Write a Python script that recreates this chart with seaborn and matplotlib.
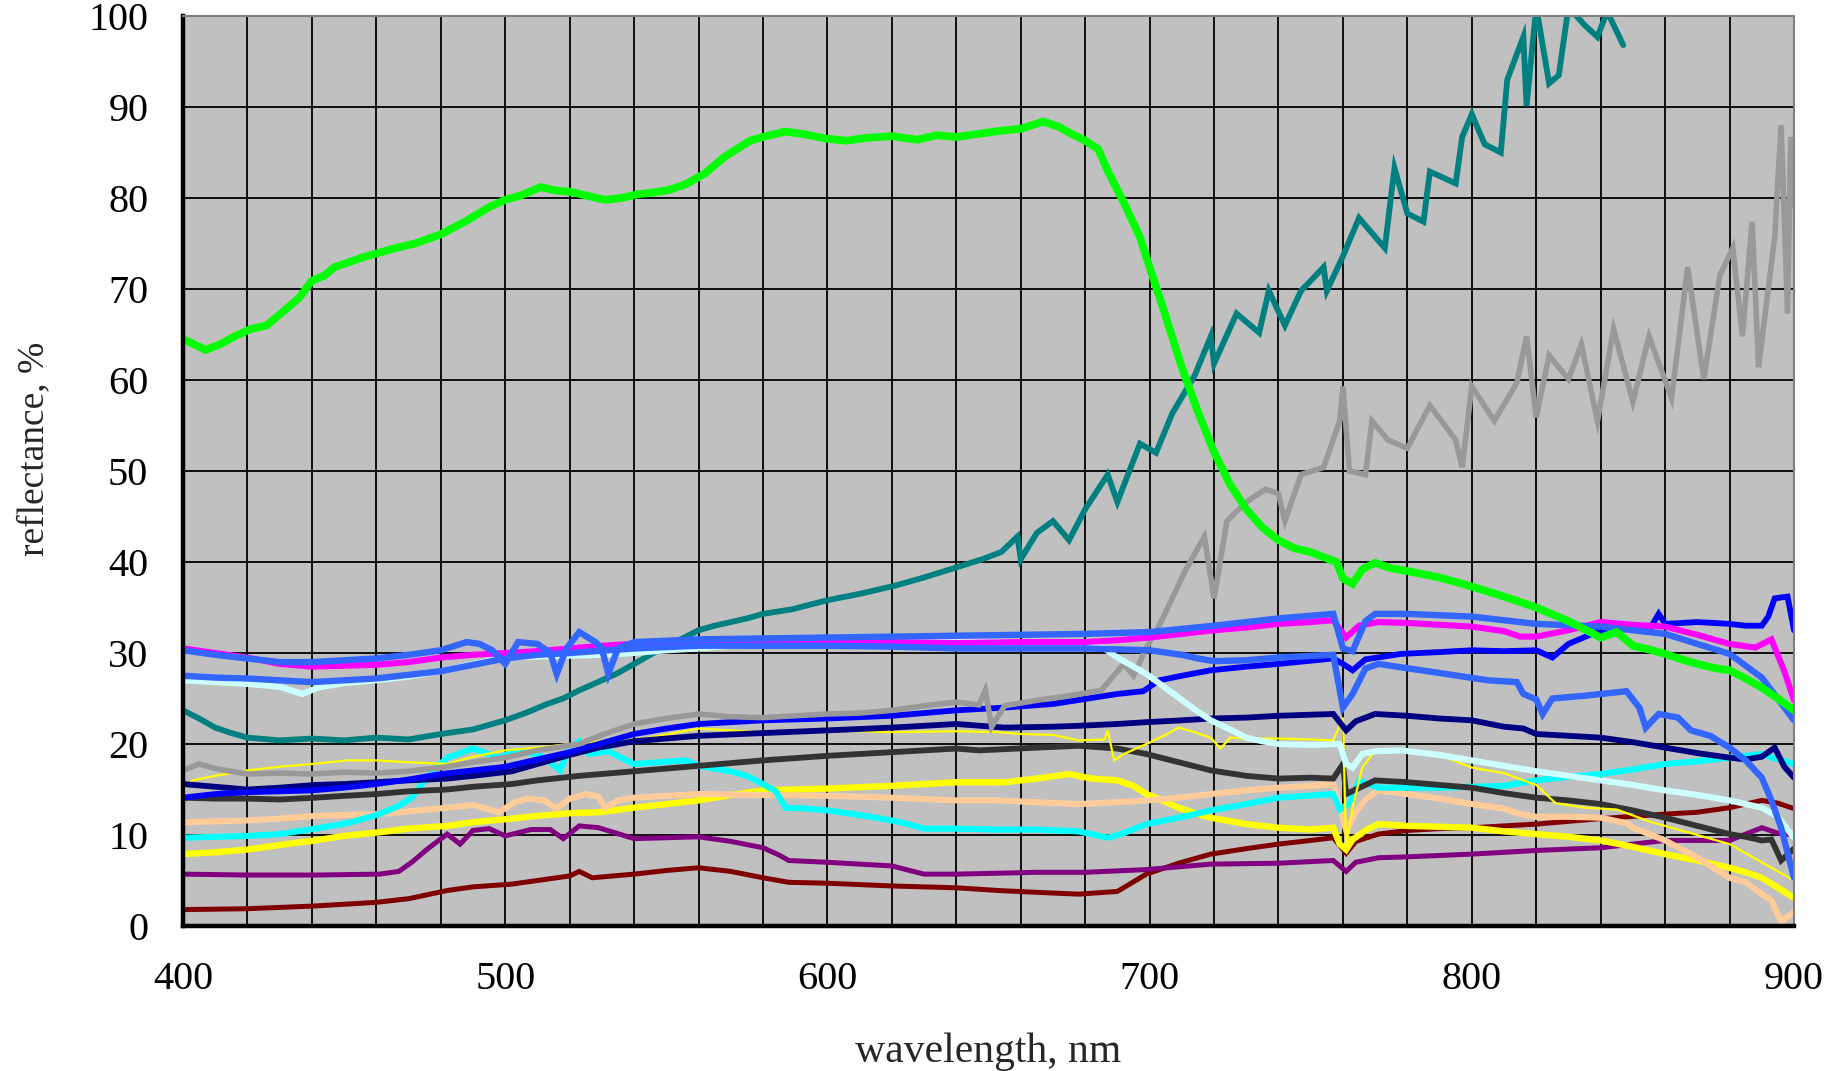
import matplotlib
matplotlib.use("Agg")
import matplotlib.pyplot as plt
import seaborn as sns
import pandas as pd

# ---------------- data (wavelength nm, reflectance %) ----------------
maroon = [(400,1.8),(420,1.9),(441,2.2),(460,2.6),(470,3),(482,3.9),(490,4.3),(502,4.6),(510,5),(520,5.5),(523,6),(527,5.3),
          (540,5.7),(550,6.1),(560,6.4),(570,6),(580,5.3),(588,4.8),(600,4.7),(620,4.4),(640,4.2),(653,3.9),(665,3.7),(678,3.5),
          (690,3.8),(699,5.7),(709,6.9),(719,7.9),(730,8.5),(740,9),(750,9.4),(757,9.7),(761,8),(764,9.3),(771,10.1),(780,10.5),
          (790,10.7),(800,10.8),(820,11.2),(840,11.8),(860,12.3),(870,12.5),(880,13),(890,13.8),(895,13.5),(900,12.9)]
purple = [(400,5.7),(420,5.6),(441,5.6),(461,5.7),(467,6),(471,7),(476,8.5),(482,10.1),(486,9),(490,10.5),(495,10.7),(500,9.9),
          (508,10.6),(514,10.6),(518,9.6),(523,11),(529,10.8),(540,9.6),(550,9.7),(560,9.8),(570,9.3),(580,8.6),(585,7.8),(588,7.2),
          (600,7),(620,6.6),(630,5.7),(640,5.7),(653,5.8),(665,5.9),(680,5.9),(699,6.2),(719,6.8),(740,6.9),(757,7.2),(761,6),
          (764,7),(771,7.5),(780,7.6),(800,7.9),(820,8.3),(840,8.6),(860,9.4),(880,9.4),(890,10.8),(895,10.2),(900,10)]
yellow_thick = [(400,7.9),(410,8.1),(420,8.4),(430,8.9),(441,9.4),(450,9.9),(461,10.3),(470,10.7),(482,11),(490,11.4),(502,11.8),
          (510,12.1),(520,12.4),(529,12.5),(540,13),(550,13.4),(560,13.8),(570,14.4),(580,14.9),(600,15.1),(620,15.4),(640,15.8),
          (655,15.8),(665,16.2),(675,16.7),(682,16.2),(690,16),(695,15.4),(699,14.5),(704,13.8),(709,13),(714,12.4),(719,11.9),
          (730,11.2),(740,10.8),(750,10.6),(757,10.8),(759,9),(761,8.4),(763,9.5),(767,10.5),(771,11.2),(780,11),(790,10.9),
          (800,10.8),(810,10.4),(820,10.1),(830,9.8),(840,9.4),(850,8.7),(860,7.9),(870,7.2),(880,6.4),(885,5.9),(890,5.3),
          (895,4.2),(900,3.1)]
peach = [(400,11.4),(410,11.5),(420,11.6),(430,11.8),(441,12.1),(450,12.2),(461,12.3),(470,12.6),(482,13),(490,13.3),(498,12.5),
         (503,13.6),(507,14),(512,13.8),(516,12.9),(520,14),(525,14.5),(529,14.2),(531,13),(535,13.8),(540,14.1),(560,14.5),
         (580,14.4),(600,14.3),(620,14.1),(640,13.8),(653,13.8),(665,13.6),(678,13.4),(690,13.6),(699,13.8),(709,14.1),(719,14.5),
         (730,14.9),(740,15.2),(750,15.4),(757,15.6),(759,13),(761,10.5),(764,12.5),(767,13.9),(771,14.9),(780,14.5),(790,14),
         (800,13.4),(810,12.9),(815,12.3),(820,12),(830,12),(840,11.9),(848,11.3),(850,10.8),(855,10.1),(860,9.4),(870,7.5),
         (880,5.3),(885,4.8),(890,3.5),(893,2.8),(896,0.5),(900,1.5)]
cyan = [(400,9.7),(410,9.8),(420,9.9),(430,10.1),(441,10.7),(451,11.3),(461,12.3),(467,13.2),(471,14.1),(475,16),(479,17.5),
        (482,18.5),(486,19),(490,19.5),(494,19),(498,18.5),(503,19.2),(510,18.9),(514,18),(517,17.1),(520,19.5),(523,20.3),
        (526,18.9),(532,19.2),(540,17.8),(548,18),(556,18.2),(560,17.6),(570,17),(575,16.5),(580,15.6),(584,14.8),(587,13),
        (594,12.9),(600,12.7),(610,12.2),(620,11.6),(625,11.2),(630,10.7),(640,10.7),(653,10.6),(665,10.6),(678,10.4),(687,9.7),
        (692,10.2),(699,11.2),(709,11.9),(719,12.7),(730,13.4),(740,14.1),(757,14.5),(759,12.8),(762,13.5),(765,16),(771,15.2),
        (780,15.2),(790,15.2),(800,15.3),(810,15.4),(820,16),(830,16.4),(840,16.7),(850,17.2),(860,17.8),(870,18.1),(880,18.5),
        (890,18.9),(895,18.3),(900,17.8)]
dark_gray = [(400,14.1),(410,14),(420,14),(430,13.9),(441,14.1),(450,14.3),(460,14.5),(470,14.8),(482,15),(490,15.3),(502,15.6),
             (510,16),(523,16.5),(540,17),(560,17.6),(580,18.2),(600,18.7),(620,19.1),(640,19.5),(647,19.3),(665,19.6),(678,19.8),
             (690,19.5),(699,18.9),(709,18),(719,17.1),(730,16.5),(740,16.2),(750,16.3),(757,16.2),(760,17.8),(761,14.5),(764,15),
             (770,16),(780,15.8),(790,15.5),(800,15.2),(810,14.6),(820,14.1),(830,13.8),(840,13.4),(850,12.7),(860,11.9),(870,11),
             (880,10.1),(885,9.8),(890,9.4),(893,9.5),(896,7.2),(900,8.5)]
yellow_thin = [(400,14.2),(401,15.5),(403,16),(410,16.5),(420,17.1),(430,17.5),(440,17.8),(451,18.2),(460,18.2),(470,18),
               (482,17.8),(490,18.6),(500,19.3),(510,19.6),(520,20),(530,20.3),(540,20.4),(560,21.7),(580,21.3),(600,21.5),
               (620,21.3),(640,21.4),(653,21.3),(660,21.1),(670,21),(678,20.4),(686,20.5),(687,21.5),(689,18.2),(692,18.9),
               (699,20),(705,21),(709,21.8),(714,21.3),(719,20.7),(722,19.5),(725,20.7),(730,20.6),(740,20.6),(750,20.5),
               (757,20.4),(760,22.9),(761,8.6),(763,13),(766,17.4),(770,19.3),(780,19.2),(790,18.8),(800,17.4),(810,16.8),
               (816,16),(820,15.5),(826,13.5),(835,13),(845,12.8),(855,11.5),(870,10),(880,9),(890,7),(900,5)]
navy = [(400,15.6),(410,15.3),(420,15),(430,15.2),(441,15.5),(450,15.6),(460,15.8),(470,16),(482,16.2),(490,16.5),(502,17),
        (510,17.8),(520,18.8),(529,19.6),(540,20.3),(560,20.9),(580,21.2),(600,21.5),(620,21.8),(640,22.2),(655,21.8),(670,21.9),
        (678,22),(690,22.2),(699,22.4),(710,22.6),(719,22.8),(730,22.9),(740,23.1),(757,23.3),(761,21.5),(764,22.5),(770,23.3),
        (780,23.1),(790,22.8),(800,22.6),(810,21.9),(816,21.7),(820,21.1),(830,20.9),(840,20.7),(850,20.2),(860,19.6),(870,19),
        (880,18.5),(885,18.3),(890,18.6),(894,19.6),(897,17.5),(900,16.3)]
blue = [(400,14.1),(410,14.5),(420,14.7),(430,14.8),(440,14.9),(450,15.2),(460,15.6),(470,16.1),(480,16.7),(490,17.1),(500,17.5),
        (510,18.3),(520,19.1),(530,20.1),(540,21.1),(550,21.7),(560,22.2),(580,22.6),(600,22.8),(620,23.1),(640,23.7),(655,24),
        (670,24.4),(690,25.5),(698,25.8),(703,27),(710,27.5),(719,28.1),(730,28.5),(740,28.8),(757,29.4),(760,28.8),(763,28.1),
        (767,29.3),(778,29.9),(790,30.1),(800,30.3),(810,30.2),(820,30.3),(825,29.5),(830,31),(840,32.5),(850,32.8),(855,32.5),
        (858,34.3),(860,33.2),(870,33.4),(880,33.2),(885,33),(890,33),(892,34),(894,36),(898,36.2),(900,32.5)]
gray = [(400,17.1),(405,17.8),(410,17.3),(420,16.7),(430,16.8),(440,16.7),(450,16.9),(460,16.8),(470,17),(480,17.4),(490,18),
        (500,18.5),(510,19.3),(523,20),(530,21),(540,22.2),(550,22.8),(560,23.3),(570,23),(580,22.9),(590,23.1),(600,23.3),
        (610,23.4),(620,23.7),(630,24.2),(640,24.6),(647,24.3),(649,25.9),(651,21.9),(655,24.2),(665,24.8),(675,25.3),(685,25.9),
        (692,28.8),(695,27.5),(699,30.6),(703,33),(707,36),(711,39),(717,42.8),(720,36),(724,44.5),(730,46.6),(736,48),
        (740,47.5),(742,44.5),(747,49.6),(754,50.4),(759,55.5),(760,59.3),(762,50),(767,49.6),(769,55.5),(774,53.4),(780,52.5),
        (787,57.2),(795,53.4),(797,50.4),(800,59.3),(807,55.5),(814,59.7),(817,64.8),(820,55.9),(824,62.7),(830,60.1),
        (834,63.9),(839,55.5),(844,65.6),(850,57.6),(855,64.8),(862,58),(867,72.4),(872,60.1),(877,71.5),(881,74.5),
        (884,64.8),(887,77.4),(889,61.4),(894,75.7),(896,88),(898,67.3),(899,86.7),(900,79.1)]
teal = [(400,23.7),(405,22.8),(410,21.8),(415,21.2),(420,20.7),(430,20.4),(440,20.6),(450,20.4),(460,20.7),(470,20.5),(480,21.1),
        (490,21.6),(500,22.6),(507,23.5),(513,24.4),(518,25),(523,25.9),(530,27),(535,27.8),(540,28.8),(545,29.8),(549,30.6),
        (555,31.6),(560,32.5),(565,33),(570,33.4),(575,33.8),(580,34.3),(589,34.8),(600,35.8),(610,36.5),(621,37.4),(630,38.3),
        (640,39.4),(648,40.3),(654,41.1),(659,42.8),(660,40.3),(665,43.2),(670,44.5),(675,42.4),(680,45.8),(687,49.6),(690,46.6),
        (697,53),(702,52),(707,56.3),(714,60.5),(719,64.8),(720,61.8),(727,67.3),(734,65.2),(737,69.8),(742,66),(747,69.8),
        (754,72.4),(755,69.8),(760,73.6),(765,77.8),(773,74.5),(776,83.3),(780,78.3),(785,77.4),(787,82.9),(795,81.6),
        (797,86.7),(800,89.2),(804,85.9),(809,85),(811,93),(816,97.7),(817,90.1),(820,101),(824,92.6),(827,93.5),(830,101),
        (835,99),(839,97.7),(842,100.5),(847,96.8)]
pale_cyan = [(400,27),(410,26.8),(420,26.6),(430,26.3),(437,25.5),(442,26.2),(450,26.7),(460,27),(470,27.4),(480,28),(490,28.8),
             (500,29.5),(510,29.6),(520,29.7),(530,29.8),(540,30),(550,30.3),(560,30.5),(570,30.8),(580,31),(600,31.2),(620,31.2),
             (640,31.2),(660,31.2),(680,31.2),(686,30.5),(690,29.5),(695,28.5),(699,27.7),(704,26.4),(709,25.1),(714,23.8),
             (719,22.6),(725,21.6),(730,20.7),(735,20.3),(740,20),(750,19.9),(759,20),(761,17.8),(763,17.4),(766,18.9),(770,19.2),
             (778,19.3),(790,18.8),(800,18.2),(810,17.6),(820,17),(830,16.5),(840,16),(850,15.5),(860,14.9),(870,14.4),(880,13.8),
             (890,13),(895,12),(900,9.7)]
magenta = [(400,30.5),(410,30),(420,29.5),(430,28.8),(440,28.5),(450,28.6),(460,28.7),(470,29),(480,29.5),(490,29.8),(500,30),
           (510,30.2),(520,30.5),(530,30.8),(540,31),(560,31.2),(580,31.2),(600,31.1),(620,31.2),(640,31.1),(660,31.2),(680,31.2),
           (690,31.4),(700,31.7),(710,32.1),(720,32.5),(730,32.8),(740,33.2),(750,33.4),(757,33.6),(761,31.7),(765,33),(771,33.4),
           (780,33.3),(790,33.1),(800,32.9),(810,32.4),(815,31.8),(820,31.8),(830,32.5),(840,33.4),(850,33.1),(860,32.9),(870,32),
           (880,31),(888,30.6),(893,31.5),(897,28),(900,24.8)]
blue_light_b = [(400,27.5),(410,27.3),(420,27.2),(430,27),(440,26.8),(450,27),(460,27.2),(470,27.6),(480,28),(490,28.7),(500,29.4),
                (510,29.8),(520,30),(540,30.5),(560,30.8),(580,30.8),(600,30.8),(620,30.7),(640,30.5),(660,30.5),(680,30.5),
                (700,30.3),(710,29.8),(715,29.4),(720,29.1),(730,29.2),(740,29.5),(757,29.8),(760,24),(763,25.5),(767,28.3),
                (771,28.8),(790,27.8),(805,27),(814,26.8),(816,25.5),(820,24.9),(822,23.3),(825,25),(835,25.3),(848,25.8),
                (852,24),(854,21.8),(858,23.3),(864,22.9),(868,21.5),(874,20.9),(880,19.6),(885,18.2),(890,16.3),(893,13.8),
                (896,10.8),(900,5.3)]
blue_light_a = [(400,30.3),(410,29.8),(420,29.4),(430,29),(440,29),(450,29.2),(460,29.4),(470,29.8),(480,30.3),(488,31.2),(492,31),
                (496,30.3),(500,28.8),(504,31.2),(510,31),(514,30),(516,27.7),(519,30.5),(523,32.3),(528,31.2),(530,30.5),(532,27.7),
                (535,30.5),(540,31.2),(560,31.5),(580,31.6),(600,31.7),(620,31.8),(640,31.9),(660,32),(680,32.1),(700,32.3),
                (720,33),(740,33.8),(757,34.3),(760,30.5),(763,30.2),(767,33.5),(770,34.3),(780,34.3),(800,34),(820,33.2),
                (840,32.9),(860,32.1),(870,31),(880,29.9),(890,27.3),(900,22.6)]
green = [(400,64.5),(403,64),(407,63.3),(412,64),(416,64.8),(421,65.6),(426,66),(431,67.5),(436,69),(440,70.9),(444,71.5),(447,72.4),
         (452,73),(456,73.5),(460,73.9),(466,74.5),(472,75),(480,76),(488,77.5),(495,79),(500,79.8),(505,80.3),(511,81.2),(516,80.8),
         (520,80.7),(526,80.2),(531,79.8),(536,80),(541,80.4),(546,80.6),(551,80.9),(556,81.5),(562,82.7),(568,84.5),(576,86.3),
         (581,86.8),(587,87.3),(593,87),(600,86.5),(606,86.3),(612,86.6),(620,86.8),(628,86.4),(634,86.9),(640,86.7),(646,87),
         (654,87.4),(660,87.6),(667,88.4),(672,87.8),(676,87),(680,86.3),(684,85.4),(687,83),(692,79.5),(697,75.7),(700,72.4),
         (704,68.1),(710,61.4),(715,56.5),(720,52.1),(725,48.5),(730,45.8),(735,43.8),(740,42.4),(745,41.5),(750,41.1),(755,40.4),
         (758,40),(760,38.2),(763,37.6),(766,39.2),(770,39.9),(775,39.3),(780,39),(790,38.3),(800,37.3),(810,36.2),(820,35),
         (830,33.5),(840,31.7),(845,32.3),(850,30.8),(856,30.3),(860,29.9),(866,29.2),(870,28.8),(876,28.3),(880,28.1),(885,27.2),
         (890,26.2),(895,25),(900,23.7)]

x_ticks = [400, 500, 600, 700, 800, 900]
y_ticks = [0, 10, 20, 30, 40, 50, 60, 70, 80, 90, 100]

# (data, colour, linewidth) in drawing order
series = [
    (maroon, "#800000", 3.6),
    (purple, "#800080", 3.6),
    (yellow_thick, "#FFFF00", 4.6),
    (peach, "#FFCC99", 4.4),
    (cyan, "#00FFFF", 4.4),
    (dark_gray, "#333333", 4.2),
    (yellow_thin, "#FFFF00", 1.6),
    (navy, "#000080", 4.2),
    (blue, "#0000FF", 4.2),
    (gray, "#999999", 4.0),
    (teal, "#008080", 4.2),
    (pale_cyan, "#CCFFFF", 4.4),
    (magenta, "#FF00FF", 4.4),
    (blue_light_b, "#3366FF", 4.6),
    (blue_light_a, "#3366FF", 4.6),
    (green, "#00FF00", 5.6),
]

sns.set_style("white")
plt.rcParams["font.family"] = ["Liberation Serif", "DejaVu Serif"]

fig = plt.figure(figsize=(18.41, 10.71), dpi=100)
ax = fig.add_axes([183 / 1841, (1071 - 926) / 1071, (1794 - 183) / 1841, 910 / 1071])
ax.set_facecolor("#C0C0C0")

for data, color, lw in series:
    df = pd.DataFrame(data, columns=["wavelength", "reflectance"])
    sns.lineplot(data=df, x="wavelength", y="reflectance", ax=ax, color=color,
                 linewidth=lw, sort=False, estimator=None, solid_joinstyle="miter")

ax.set_xlim(400, 900)
ax.set_ylim(0, 100)
ax.set_xticks(x_ticks)
ax.set_xticks(range(400, 901, 20), minor=True)
ax.set_yticks(y_ticks)
ax.set_xticklabels([str(t) for t in x_ticks])
ax.set_yticklabels([str(t) for t in y_ticks])

ax.grid(True, axis="y", which="major", color="black", linewidth=1.3)
ax.grid(True, axis="x", which="both", color="black", linewidth=1.3)
ax.set_axisbelow(True)

ax.tick_params(axis="x", which="major", direction="out", length=9, width=2.5, pad=16,
               labelsize=29, colors="black")
ax.tick_params(axis="x", which="minor", length=0)
ax.tick_params(axis="y", which="major", direction="out", length=10, width=2.5, pad=15,
               labelsize=29, colors="black")

for side in ["left", "bottom"]:
    ax.spines[side].set_color("black")
    ax.spines[side].set_linewidth(3.2)
for side in ["top", "right"]:
    ax.spines[side].set_color("#808080")
    ax.spines[side].set_linewidth(1.5)

ax.set_xlabel("wavelength, nm", fontsize=30)
ax.set_ylabel("reflectance, %", fontsize=27)
ax.xaxis.set_label_coords(0.5, -0.117)
ax.yaxis.set_label_coords(-0.0816, 0.524)

fig.savefig("out.png", dpi=100, facecolor="white")
